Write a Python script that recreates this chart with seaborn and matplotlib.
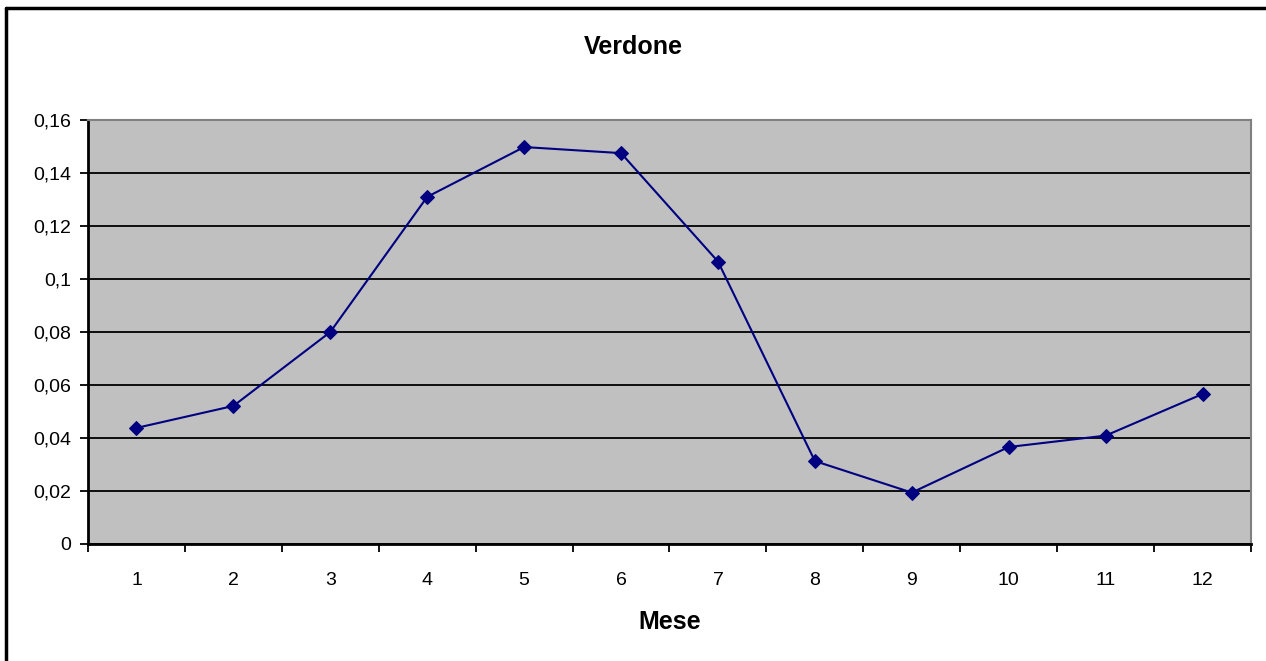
import numpy as np
import pandas as pd
import matplotlib
matplotlib.use('Agg')
import matplotlib.pyplot as plt
import seaborn as sns
from matplotlib.lines import Line2D

mesi = [1, 2, 3, 4, 5, 6, 7, 8, 9, 10, 11, 12]
verdone = [0.0438, 0.0521, 0.0800, 0.1310, 0.1498, 0.1475, 0.1066, 0.0313, 0.0194, 0.0366, 0.0409, 0.0566]
y_ticks = [0, 0.02, 0.04, 0.06, 0.08, 0.1, 0.12, 0.14, 0.16]
y_labels = ['0', '0,02', '0,04', '0,06', '0,08', '0,1', '0,12', '0,14', '0,16']

df = pd.DataFrame({'Mese': mesi, 'Verdone': verdone})

sns.set_style('white')
plt.rcParams['font.family'] = ['Liberation Sans', 'DejaVu Sans']
plt.rcParams['text.color'] = 'black'
plt.rcParams['xtick.color'] = 'black'
plt.rcParams['ytick.color'] = 'black'
plt.rcParams['axes.labelcolor'] = 'black'

fig = plt.figure(figsize=(12.66, 6.61), dpi=100)
ax = fig.add_axes([88/1266, 117/661, (1251-88)/1266, (544-120)/661])
ax.set_facecolor('#C0C0C0')

sns.lineplot(data=df, x='Mese', y='Verdone', ax=ax, color='#000080', lw=1.5,
             marker='D', markersize=7, markeredgecolor='#000080', markerfacecolor='#000080')

ax.set_xlim(0.5, 12.5)
ax.set_ylim(0, 0.16)
ax.set_yticks(y_ticks)
ax.set_yticklabels(y_labels, fontsize=14)
ax.yaxis.grid(True, color='black', lw=1.3)
ax.set_axisbelow(True)

# tick marks between categories, labels centred on categories
ax.set_xticks(np.arange(0.5, 13, 1))
ax.set_xticklabels([''] * 13)
ax.set_xticks(mesi, minor=True)
ax.set_xticklabels([str(m) for m in mesi], minor=True, fontsize=14)
ax.tick_params(axis='x', which='major', direction='out', length=6, width=1.3, color='black', bottom=True)
ax.tick_params(axis='x', which='minor', length=0, pad=20)
ax.tick_params(axis='y', direction='out', length=6, width=1.3, color='black', left=True, pad=6)

for s in ['left', 'bottom']:
    ax.spines[s].set_color('black')
    ax.spines[s].set_linewidth(2)
for s in ['top', 'right']:
    ax.spines[s].set_color('#808080')
    ax.spines[s].set_linewidth(1.5)

ax.set_ylabel('')
ax.set_xlabel('Mese', fontsize=18, fontweight='bold', labelpad=15)
fig.text(0.5, 1 - 47/661, 'Verdone', ha='center', va='center', fontsize=18, fontweight='bold')

# chart border (left and top visible)
fig.add_artist(Line2D([6/1266, 6/1266], [0, 1 - 8/661], transform=fig.transFigure, color='black', lw=2.5))
fig.add_artist(Line2D([6/1266, 1], [1 - 8/661, 1 - 8/661], transform=fig.transFigure, color='black', lw=2.5))

fig.savefig('out.png', dpi=100)
